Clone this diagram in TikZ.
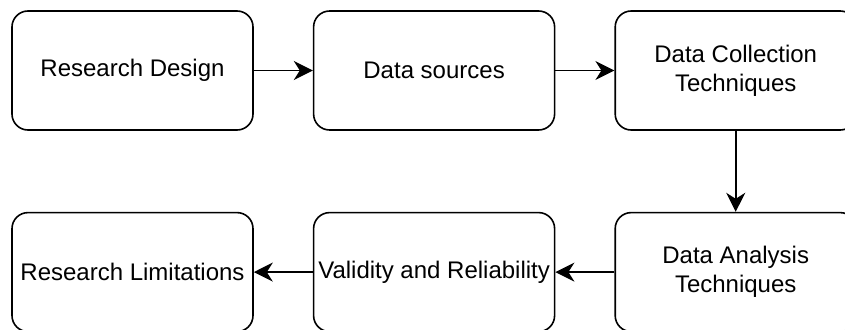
\documentclass[tikz,border=0pt]{standalone}
\usepackage{fontspec}
\setmainfont{Liberation Sans}
\usetikzlibrary{positioning, arrows.meta}

\begin{document}
\begin{tikzpicture}[x=1pt, y=1pt, line width=1.6pt,
	stage/.style={rectangle, rounded corners=16pt, draw, minimum width=241pt, minimum height=119pt, inner sep=1pt, align=center, font=\fontsize{24}{29}\selectfont},
	flow/.style={-{Stealth[length=19pt, width=19pt, inset=6pt]}}]
	\useasboundingbox (0,0) rectangle (845,-329);
	% Draw the stages.
	\node at (132.5,-70.5) [stage] (design) {Research Design};
	\node[stage, right=59pt of design] (sources) {Data sources};
	\node[stage, right=59pt of sources] (collect) {Data Collection\\Techniques};
	\node[stage, below=81pt of collect] (analysis) {Data Analysis\\Techniques};
	\node[stage, left=59pt of analysis] (valid) {Validity and Reliability};
	\node[stage, left=59pt of valid] (limits) {Research Limitations};

	% Connect stages with arrows
	\draw[flow] (design) -- (sources);
	\draw[flow] (sources) -- (collect);
	\draw[flow] (collect) -- (analysis);
	\draw[flow] (analysis) -- (valid);
	\draw[flow] (valid) -- (limits);
\end{tikzpicture}
\end{document}
